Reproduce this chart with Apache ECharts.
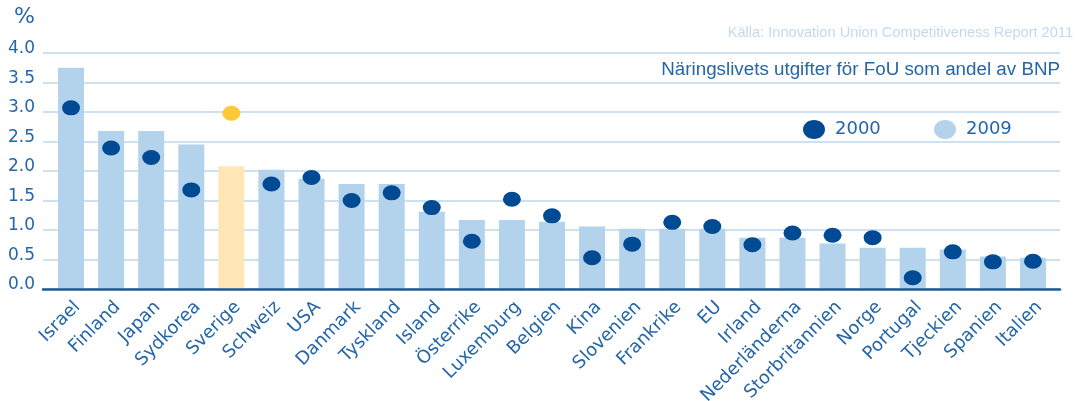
<!DOCTYPE html>
<html>
<head>
<meta charset="utf-8">
<script src="https://cdn.jsdelivr.net/npm/echarts@6/dist/echarts.min.js"></script>
<style>
  html, body { margin: 0; padding: 0; background: #fff; }
  #chart { width: 1084px; height: 401px; }
</style>
</head>
<body>
<div id="chart"></div>
<script>
// countries, sorted as in the source figure
const categories = ['Israel', 'Finland', 'Japan', 'Sydkorea', 'Sverige', 'Schweiz', 'USA', 'Danmark',
  'Tyskland', 'Island', 'Österrike', 'Luxemburg', 'Belgien', 'Kina', 'Slovenien', 'Frankrike', 'EU',
  'Irland', 'Nederländerna', 'Storbritannien', 'Norge', 'Portugal', 'Tjeckien', 'Spanien', 'Italien'];
// bars = 2009, dots = 2000 (% of GDP)
const values2009 = [3.75, 2.68, 2.68, 2.45, 2.08, 2.02, 1.87, 1.78, 1.78, 1.31, 1.17, 1.17, 1.14, 1.06,
  1.02, 1.02, 1.02, 0.87, 0.87, 0.77, 0.70, 0.70, 0.67, 0.55, 0.53];
const values2000 = [3.07, 2.39, 2.23, 1.68, 2.98, 1.78, 1.89, 1.50, 1.63, 1.38, 0.81, 1.52, 1.24, 0.53,
  0.76, 1.13, 1.06, 0.75, 0.95, 0.91, 0.87, 0.19, 0.63, 0.46, 0.47];
const yTicks = ['0.0', '0.5', '1.0', '1.5', '2.0', '2.5', '3.0', '3.5', '4.0'];
const highlight = 'Sverige';

const textBlue = '#2566a8';
const dotBlue = '#004a94';
const barBlue = '#b2d3eb';
const ellipse = 'path://M0 10A10 10 0 1 1 20 10A10 10 0 1 1 0 10Z';

var myChart = echarts.init(document.getElementById('chart'));

// legend drawn by hand so the keys can be flat ellipses like the original
const legendFont = '18px "DejaVu Sans"';

let option = {
  animation: false,
  grid: [
    { left: 43, right: 24, top: 53, bottom: 112, outerBoundsMode: 'none' },
    { left: 51, right: 31, top: 53, bottom: 112, outerBoundsMode: 'none' }
  ],
  graphic: [
    { type: 'text', x: 14, y: 17, style: { text: '%', font: '22px "DejaVu Sans"', fill: textBlue, verticalAlign: 'middle' } },
    { type: 'text', x: 1060, y: 70, style: { text: 'Näringslivets utgifter för FoU som andel av BNP',
      font: '18.8px "Liberation Sans"', fill: textBlue, align: 'right', verticalAlign: 'middle' } },
    { type: 'text', x: 1073, y: 33, style: { text: 'Källa: Innovation Union Competitiveness Report 2011',
      font: '14.6px "Liberation Sans"', fill: '#c2daef', align: 'right', verticalAlign: 'middle' } },
    { type: 'ellipse', shape: { cx: 814, cy: 129.5, rx: 11, ry: 9.5 }, style: { fill: dotBlue } },
    { type: 'text', x: 835, y: 129, style: { text: '2000', font: legendFont, fill: textBlue, verticalAlign: 'middle' } },
    { type: 'ellipse', shape: { cx: 945, cy: 129.5, rx: 11, ry: 9.5 }, style: { fill: barBlue } },
    { type: 'text', x: 966, y: 129, style: { text: '2009', font: legendFont, fill: textBlue, verticalAlign: 'middle' } }
  ],
  xAxis: [
    {
      gridIndex: 0, type: 'value', min: 0, max: 1, z: 10,
      axisLabel: { show: false }, axisTick: { show: false }, splitLine: { show: false },
      axisLine: { show: true, lineStyle: { color: '#1d5a98', width: 2.5 } }
    },
    {
      gridIndex: 1, type: 'category', data: categories,
      axisLine: { show: false }, axisTick: { show: false },
      axisLabel: {
        interval: 0, rotate: 45, margin: 9, align: 'right', verticalAlign: 'top',
        fontFamily: 'DejaVu Sans', fontSize: 18, color: textBlue
      }
    }
  ],
  yAxis: [
    {
      gridIndex: 0, type: 'value', min: 0, max: 4, interval: 0.5,
      axisLine: { show: false }, axisTick: { show: false },
      axisLabel: {
        margin: 8, fontFamily: 'DejaVu Sans', fontSize: 17, color: textBlue,
        verticalAlign: 'bottom', lineHeight: 8,
        formatter: (v) => yTicks[Math.round(v / 0.5)]
      },
      splitLine: { lineStyle: { color: '#bdd7ed', width: 1.5 } }
    },
    { gridIndex: 1, type: 'value', min: 0, max: 4, show: false }
  ],
  series: [
    {
      name: '2009',
      type: 'bar',
      xAxisIndex: 1,
      yAxisIndex: 1,
      barWidth: 26,
      itemStyle: { color: barBlue },
      data: values2009.map((v, i) => categories[i] === highlight
        ? { value: v, itemStyle: { color: '#fee7b4' } } : v)
    },
    {
      name: '2000',
      type: 'scatter',
      xAxisIndex: 1,
      yAxisIndex: 1,
      symbol: ellipse,
      symbolSize: [18, 15],
      z: 5,
      itemStyle: { color: dotBlue, opacity: 1 },
      data: values2000.map((v, i) => categories[i] === highlight
        ? { value: v, itemStyle: { color: '#fdc936', opacity: 1 } } : v)
    }
  ]
};
option && myChart.setOption(option);
</script>
</body>
</html>
